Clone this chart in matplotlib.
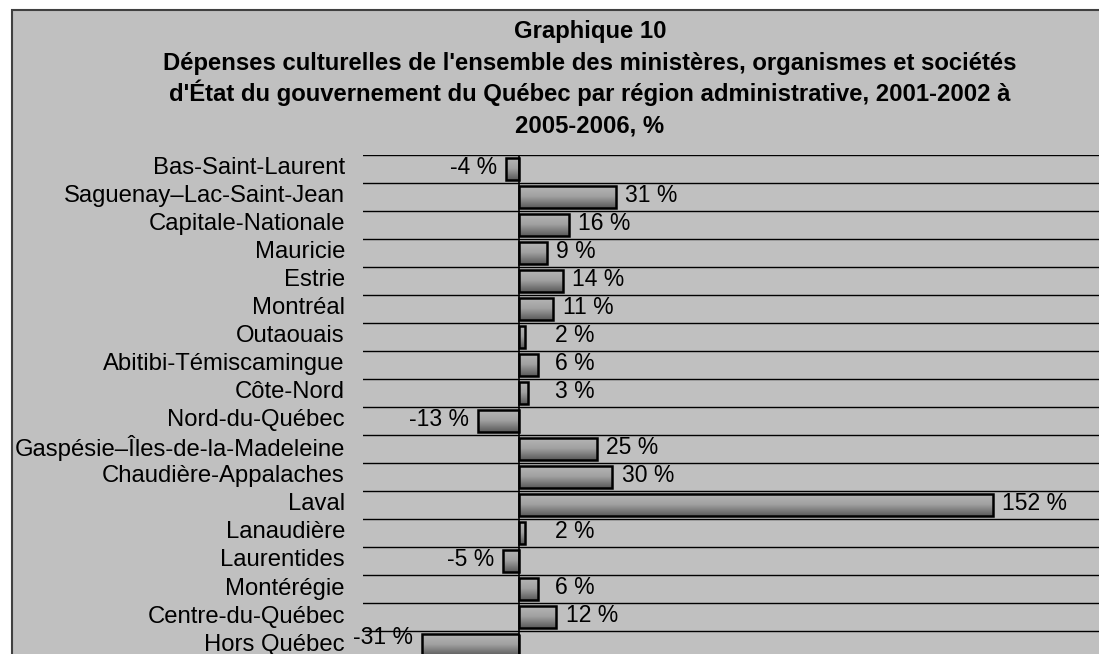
import numpy as np
import matplotlib
matplotlib.use('Agg')
import matplotlib.pyplot as plt
from matplotlib.patches import Rectangle
from matplotlib.colors import LinearSegmentedColormap
from matplotlib.transforms import ScaledTranslation

# data
regions = ['Bas-Saint-Laurent', 'Saguenay–Lac-Saint-Jean', 'Capitale-Nationale',
           'Mauricie', 'Estrie', 'Montréal', 'Outaouais', 'Abitibi-Témiscamingue',
           'Côte-Nord', 'Nord-du-Québec', 'Gaspésie–Îles-de-la-Madeleine',
           'Chaudière-Appalaches', 'Laval', 'Lanaudière', 'Laurentides',
           'Montérégie', 'Centre-du-Québec', 'Hors Québec']
values = [-4, 31, 16, 9, 14, 11, 2, 6, 3, -13, 25, 30, 152, 2, -5, 6, 12, -31]
value_labels = ['%d %%' % v for v in values]
title_lines = ["Graphique 10",
               "Dépenses culturelles de l'ensemble des ministères, organismes et sociétés",
               "d'État du gouvernement du Québec par région administrative, 2001-2002 à",
               "2005-2006, %"]

plt.rcParams['font.family'] = ['Liberation Sans', 'DejaVu Sans']

W, H = 1099., 654.
fig = plt.figure(figsize=(W / 100, H / 100), dpi=100)
fig.patch.set_facecolor('white')

# gray chart frame (runs off the right and bottom of the picture)
fig.patches.append(Rectangle((12 / W, -0.1), 1.2, (1 - 10 / H) + 0.1,
                             transform=fig.transFigure, facecolor='#c0c0c0',
                             edgecolor='#404040', linewidth=1.5, zorder=-10))

# title
baselines = [38, 70, 101, 132]
for line, yb in zip(title_lines, baselines):
    fig.text(590 / W, 1 - yb / H, line, ha='center', va='baseline',
             fontsize=17.2, fontweight='bold', color='black')

ax = fig.add_axes([363 / W, 1 - 659 / H, 779.6 / W, 504 / H])
ax.set_facecolor('none')
for s in ax.spines.values():
    s.set_visible(False)

y = np.arange(len(regions))
bar_h = 0.8

for b in np.arange(-0.5, len(regions)):
    ax.axhline(b, color='black', lw=1, zorder=1)
ax.axvline(0, color='black', lw=1.2, zorder=4)

cmap = LinearSegmentedColormap.from_list('g', ['#b8b8b8', '#a0a0a0', '#5a5a5a'])
grad = np.linspace(0, 1, 64).reshape(-1, 1)

bars = ax.barh(y, values, height=bar_h, color='none', edgecolor='black',
               linewidth=1.8, zorder=3)
for bar, v, yi in zip(bars, values, y):
    im = ax.imshow(grad, extent=[min(0, v), max(0, v), yi + bar_h / 2, yi - bar_h / 2],
                   aspect='auto', cmap=cmap, origin='upper', zorder=2)
    im.set_clip_path(bar)

for v, yi, lab in zip(values, y, value_labels):
    # last row is cut by the frame, its label sits a bit higher
    ly = yi - 0.28 if yi == len(regions) - 1 else yi - 0.05
    if v >= 0:
        ax.text(max(v + 3, 11.5), ly, lab, ha='left', va='center', fontsize=16.5, zorder=5)
    else:
        ax.text(v - 3, ly, lab, ha='right', va='center', fontsize=16.5, zorder=5)

ax.set_xlim(-50, 200)
ax.set_ylim(len(regions) - 0.5, -0.5)
ax.set_xticks([])
ax.set_yticks(y)
ax.set_yticklabels(regions, fontsize=17.2)
ax.tick_params(axis='y', length=0, pad=13)
shift = ScaledTranslation(0, 3 / 100, fig.dpi_scale_trans)
for t in ax.get_yticklabels():
    t.set_transform(t.get_transform() + shift)

fig.savefig('out.png', dpi=100, facecolor='white')
